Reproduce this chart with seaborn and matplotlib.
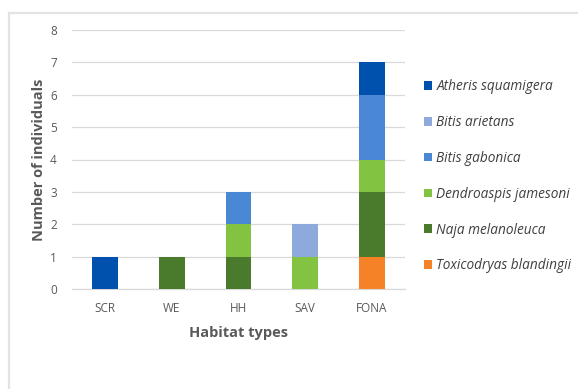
import matplotlib
matplotlib.use("Agg")
import matplotlib.pyplot as plt
from matplotlib.patches import Rectangle, Patch
import numpy as np
import pandas as pd
import seaborn as sns

# Habitat categories on the x axis
habitats = ["SCR", "WE", "HH", "SAV", "FONA"]

# Counts per species in each habitat (same order as habitats)
atheris_squamigera = [1, 0, 0, 0, 1]
bitis_arietans = [0, 0, 0, 1, 0]
bitis_gabonica = [0, 0, 1, 0, 2]
dendroaspis_jamesoni = [0, 0, 1, 1, 1]
naja_melanoleuca = [0, 1, 1, 0, 2]
toxicodryas_blandingii = [0, 0, 0, 0, 1]

species_names = [
    "Atheris squamigera",
    "Bitis arietans",
    "Bitis gabonica",
    "Dendroaspis jamesoni",
    "Naja melanoleuca",
    "Toxicodryas blandingii",
]
species_counts = [
    atheris_squamigera,
    bitis_arietans,
    bitis_gabonica,
    dendroaspis_jamesoni,
    naja_melanoleuca,
    toxicodryas_blandingii,
]
species_colors = ["#0050AE", "#8EA9DB", "#4A87D4", "#82C341", "#4A7A2C", "#F58226"]

y_ticks = list(range(0, 9))

sns.set_theme(style="white")
plt.rcParams["font.family"] = ["Open Sans", "DejaVu Sans"]

fig = plt.figure(figsize=(5.78, 3.89), dpi=100)
ax = fig.add_axes([72 / 578, 1 - 289 / 389, (405 - 72) / 578, (289 - 30) / 389])

# Light frame around the chart area (only top and left edges fall inside)
fig.patches.append(Rectangle((8.5 / 578, -0.05), 1.2, 1.05 - 12.5 / 389,
                             transform=fig.transFigure, fill=False,
                             edgecolor="#E3E3E3", linewidth=1.6, zorder=0))

# Stack from bottom (last species) to top (first species); draw cumulative
# totals tallest first so that each lower segment paints over the one above.
stack_order = list(range(len(species_names)))[::-1]
cumulative = []
running = np.zeros(len(habitats))
for i in stack_order:
    running = running + np.array(species_counts[i])
    cumulative.append((i, running.copy()))

for i, totals in reversed(cumulative):
    df = pd.DataFrame({"habitat": habitats, "total": totals})
    sns.barplot(data=df, x="habitat", y="total", order=habitats,
                color=species_colors[i], saturation=1, width=0.39,
                errorbar=None, ax=ax, zorder=3, linewidth=0)

ax.set_ylim(0, 8)
ax.set_yticks(y_ticks)
ax.set_xlim(-0.5, len(habitats) - 0.5)
ax.yaxis.grid(True, color="#D9D9D9", linewidth=0.9, zorder=0)
ax.set_axisbelow(True)
for s in ["top", "right", "left"]:
    ax.spines[s].set_visible(False)
ax.spines["bottom"].set_color("#D9D9D9")
ax.spines["bottom"].set_linewidth(0.9)
ax.tick_params(axis="both", length=0, labelsize=8.5, colors="#595959")
ax.tick_params(axis="y", pad=11)
ax.tick_params(axis="x", pad=9)
ax.set_xlabel("Habitat types", fontsize=10.5, fontweight="bold", color="#595959", labelpad=8)
ax.set_ylabel("Number of individuals", fontsize=10.5, fontweight="bold", color="#595959", labelpad=3)

handles = [Patch(facecolor=c, edgecolor="none") for c in species_colors]
leg = fig.legend(handles, species_names, loc="upper left",
                 bbox_to_anchor=(412 / 578, 1 - 67 / 389), frameon=False,
                 prop={"style": "italic", "size": 9.8},
                 handlelength=0.6, handleheight=0.6, handletextpad=0.3,
                 labelspacing=1.53, labelcolor="#404040")

fig.savefig("out.png", dpi=100)
